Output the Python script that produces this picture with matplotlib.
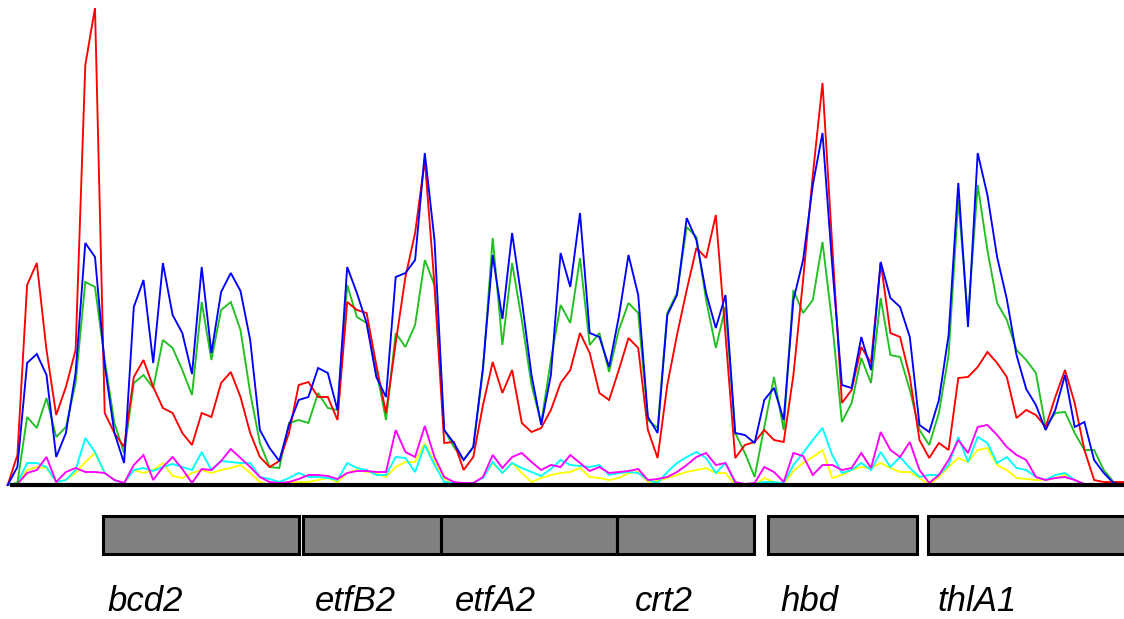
import numpy as np
import matplotlib
matplotlib.use('Agg')
import matplotlib.pyplot as plt
from matplotlib.patches import Rectangle

# sample positions along the locus (evenly spaced windows)
positions = 7.7 + 9.7 * np.arange(116)

# coverage of each series per window
red = [0, 30, 200, 222, 135, 70, 98, 135, 420, 477,
       72, 52, 38, 108, 125, 98, 77, 72, 52, 40,
       72, 68, 102, 113, 88, 52, 28, 18, 24, 52,
       100, 103, 88, 88, 65, 183, 175, 172, 120, 72,
       142, 208, 252, 325, 200, 42, 43, 15, 28, 80,
       123, 92, 115, 62, 53, 57, 75, 102, 115, 152,
       132, 92, 85, 115, 147, 137, 55, 27, 100, 150,
       195, 237, 227, 270, 150, 27, 40, 43, 55, 45,
       43, 110, 205, 310, 402, 240, 82, 95, 138, 122,
       223, 152, 148, 108, 45, 27, 42, 35, 107, 108,
       118, 133, 122, 108, 67, 75, 70, 58, 88, 115,
       82, 35, 5, 3, 3, 3]

blue = [0, 18, 122, 131, 110, 28, 52, 112, 242, 228,
        120, 52, 22, 178, 205, 122, 222, 170, 152, 111,
        218, 132, 193, 212, 194, 145, 55, 37, 24, 60,
        85, 88, 117, 112, 75, 218, 192, 162, 108, 88,
        208, 212, 225, 332, 245, 55, 42, 25, 38, 118,
        230, 166, 252, 185, 110, 60, 110, 232, 198, 272,
        152, 148, 118, 168, 230, 190, 68, 52, 170, 190,
        267, 245, 192, 157, 190, 52, 50, 42, 85, 97,
        65, 185, 225, 300, 352, 220, 100, 97, 148, 115,
        223, 187, 178, 148, 60, 53, 85, 150, 302, 158,
        332, 290, 228, 186, 130, 96, 80, 55, 75, 110,
        58, 63, 25, 12, 2, 0]

green = [0, 2, 68, 57, 87, 48, 58, 102, 203, 198,
         125, 62, 32, 102, 110, 97, 145, 137, 115, 90,
         183, 125, 175, 183, 155, 92, 42, 18, 17, 62,
         65, 62, 92, 77, 75, 200, 168, 162, 115, 65,
         152, 138, 160, 225, 200, 55, 38, 25, 38, 115,
         247, 140, 222, 165, 100, 62, 125, 180, 162, 227,
         140, 152, 113, 155, 182, 172, 65, 57, 172, 192,
         258, 248, 185, 137, 178, 52, 32, 8, 58, 108,
         55, 195, 172, 185, 243, 162, 63, 82, 127, 102,
         187, 130, 128, 95, 55, 40, 72, 130, 285, 168,
         300, 235, 182, 165, 135, 125, 112, 58, 72, 73,
         52, 35, 35, 15, 3, 0]

cyan = [0, 2, 22, 22, 18, 3, 5, 15, 47, 33,
        12, 5, 2, 15, 17, 14, 18, 21, 18, 15,
        33, 15, 24, 23, 22, 22, 8, 6, 3, 7,
        12, 8, 8, 7, 5, 22, 17, 15, 10, 10,
        28, 27, 13, 40, 20, 3, 2, 2, 2, 7,
        23, 12, 22, 17, 13, 9, 16, 25, 20, 19,
        18, 20, 10, 12, 13, 12, 5, 2, 13, 22,
        28, 33, 27, 12, 22, 2, 1, 1, 3, 3,
        2, 20, 32, 45, 57, 30, 12, 15, 22, 15,
        33, 18, 28, 17, 8, 10, 10, 20, 48, 23,
        48, 42, 22, 28, 17, 15, 8, 5, 10, 12,
        5, 1, 0, 0, 0, 0]

magenta = [0, 1, 12, 15, 28, 3, 13, 17, 13, 13,
           12, 5, 2, 20, 30, 5, 18, 28, 16, 2,
           16, 15, 24, 36, 27, 18, 8, 3, 2, 3,
           6, 10, 10, 9, 6, 12, 14, 14, 13, 13,
           55, 33, 28, 59, 28, 8, 3, 2, 2, 8,
           30, 17, 28, 32, 23, 15, 20, 18, 30, 22,
           14, 18, 12, 13, 14, 16, 5, 6, 8, 13,
           20, 28, 32, 20, 22, 3, 1, 2, 18, 13,
           3, 32, 29, 10, 20, 20, 15, 17, 32, 17,
           53, 35, 28, 43, 15, 2, 10, 25, 45, 32,
           58, 60, 50, 38, 30, 25, 8, 5, 7, 8,
           5, 1, 0, 0, 0, 0]

yellow = [0, 0, 15, 18, 17, 3, 5, 12, 23, 32,
          12, 5, 2, 15, 12, 15, 22, 9, 7, 12,
          15, 12, 15, 17, 20, 12, 3, 0, 0, 2,
          3, 3, 5, 7, 3, 12, 15, 13, 12, 8,
          18, 23, 23, 42, 23, 7, 0, 0, 1, 8,
          22, 12, 22, 12, 3, 7, 10, 12, 13, 17,
          8, 7, 5, 7, 12, 13, 3, 4, 7, 10,
          13, 15, 17, 12, 12, 0, 0, 0, 7, 3,
          1, 14, 22, 28, 35, 7, 10, 15, 18, 17,
          22, 17, 13, 13, 7, 0, 8, 18, 27, 23,
          35, 37, 20, 15, 7, 6, 5, 5, 7, 10,
          5, 0, 0, 0, 0, 0]

# gene annotation track
genes = ['bcd2', 'etfB2', 'etfA2', 'crt2', 'hbd', 'thlA1']
gene_start = [103, 303, 441, 617, 768, 928]
gene_end = [299, 441, 617, 754, 917, 1130]
label_x = [108, 315, 455, 635, 780, 937]

fig = plt.figure(figsize=(11.24, 6.19), dpi=100)
ax = fig.add_axes([0, 0, 1, 1])
ax.set_xlim(0, 1124)
ax.set_ylim(-134, 485)
ax.axis('off')

series = [(yellow, '#ffff00'), (cyan, '#00ffff'), (magenta, '#ff00ff'),
          (green, '#20c020'), (red, '#ff0000'), (blue, '#0000ff')]
for vals, col in series:
    ax.plot(positions, vals, color=col, lw=1.35, solid_joinstyle='miter')

# baseline
ax.plot([10, 1124], [0, 0], color='black', lw=3, solid_capstyle='butt', zorder=5)

for name, s, e, lx in zip(genes, gene_start, gene_end, label_x):
    ax.add_patch(Rectangle((s, -69), e - s, 38, facecolor='#808080',
                           edgecolor='black', lw=2.2, clip_on=True))
    ax.text(lx, -133, name, fontsize=25, style='italic',
            family='Liberation Sans', va='bottom', ha='left')

fig.savefig('out.png', dpi=100)
